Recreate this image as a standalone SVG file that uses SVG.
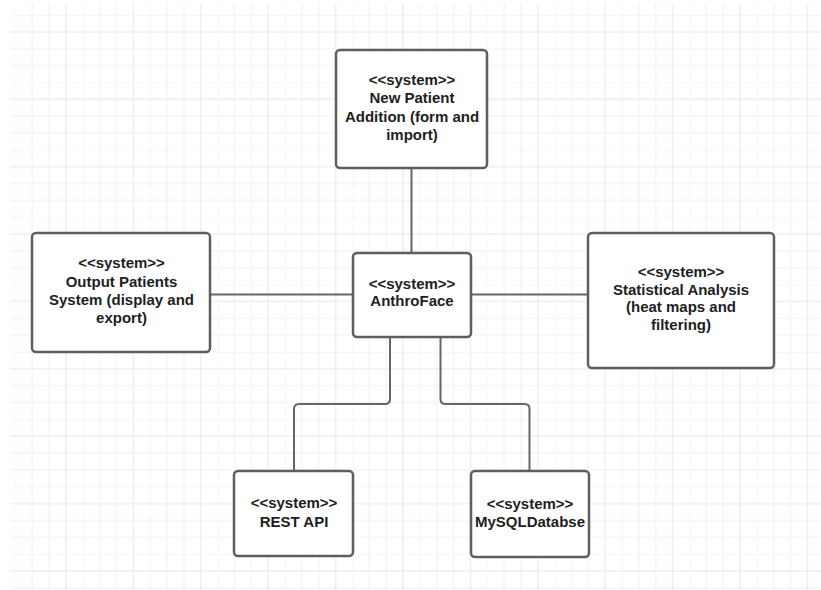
<svg xmlns="http://www.w3.org/2000/svg" width="821" height="590" viewBox="0 0 821 590">
  <defs>
    <pattern id="grid" patternUnits="userSpaceOnUse" x="15.45" y="15" width="67.4" height="67.4">
      <path d="M0 0V67.4M16.85 0V67.4M33.7 0V67.4M0 0H67.4M0 33.7H67.4M0 50.55H67.4" fill="none" stroke="#efefef" stroke-width="1"/>
      <path d="M0 16.85H67.4" fill="none" stroke="#e6e6e6" stroke-width="1"/>
      <path d="M50.55 0V67.4" fill="none" stroke="#e6e6e6" stroke-width="1"/>
    </pattern>
    <style>
      .box { fill: #ffffff; stroke: #5e5e5e; stroke-width: 2.5; }
      .conn { fill: none; stroke: #666666; stroke-width: 2; }
      .t { font-family: "Liberation Sans", Arial, sans-serif; font-size: 15px; font-weight: bold; fill: #1e1e1e; text-anchor: middle; }
    </style>
  </defs>
  <rect x="0" y="0" width="821" height="590" fill="#ffffff"/>
  <rect x="10" y="3" width="811" height="587" fill="url(#grid)"/>

  <g id="connectors">
    <path class="conn" d="M411.5 168 V253"/>
    <path class="conn" d="M210 294.5 H353"/>
    <path class="conn" d="M471 294.5 H588"/>
    <path class="conn" d="M390 337 V399 Q390 404 385 404 H299 Q294 404 294 409 V471"/>
    <path class="conn" d="M440.5 337 V399 Q440.5 404 445.5 404 H524.5 Q529.5 404 529.5 409 V471"/>
  </g>

  <g id="node-new-patient">
    <rect class="box" x="336" y="50" width="151" height="118" rx="4"/>
    <text class="t" x="412" y="85">&lt;&lt;system&gt;&gt;</text>
    <text class="t" x="412" y="103.3">New Patient</text>
    <text class="t" x="412" y="121.6">Addition (form and</text>
    <text class="t" x="412" y="140">import)</text>
  </g>

  <g id="node-output-patients">
    <rect class="box" x="32" y="233" width="178" height="119" rx="4"/>
    <text class="t" x="121.5" y="268">&lt;&lt;system&gt;&gt;</text>
    <text class="t" x="121.5" y="286.5">Output Patients</text>
    <text class="t" x="121.5" y="305">System (display and</text>
    <text class="t" x="121.5" y="323">export)</text>
  </g>

  <g id="node-anthroface">
    <rect class="box" x="353" y="253" width="118" height="84" rx="4"/>
    <text class="t" x="412" y="289">&lt;&lt;system&gt;&gt;</text>
    <text class="t" x="412" y="305.5">AnthroFace</text>
  </g>

  <g id="node-statistical-analysis">
    <rect class="box" x="588" y="233" width="186" height="135" rx="4"/>
    <text class="t" x="681" y="277">&lt;&lt;system&gt;&gt;</text>
    <text class="t" x="681" y="294.5">Statistical Analysis</text>
    <text class="t" x="681" y="312">(heat maps and</text>
    <text class="t" x="681" y="329.5">filtering)</text>
  </g>

  <g id="node-rest-api">
    <rect class="box" x="234" y="471" width="119" height="85" rx="4"/>
    <text class="t" x="294" y="508">&lt;&lt;system&gt;&gt;</text>
    <text class="t" x="294" y="526.5">REST API</text>
  </g>

  <g id="node-mysql">
    <rect class="box" x="471" y="471" width="118" height="86" rx="4"/>
    <text class="t" x="530" y="508.5">&lt;&lt;system&gt;&gt;</text>
    <text class="t" x="530" y="526.5">MySQLDatabse</text>
  </g>
</svg>
